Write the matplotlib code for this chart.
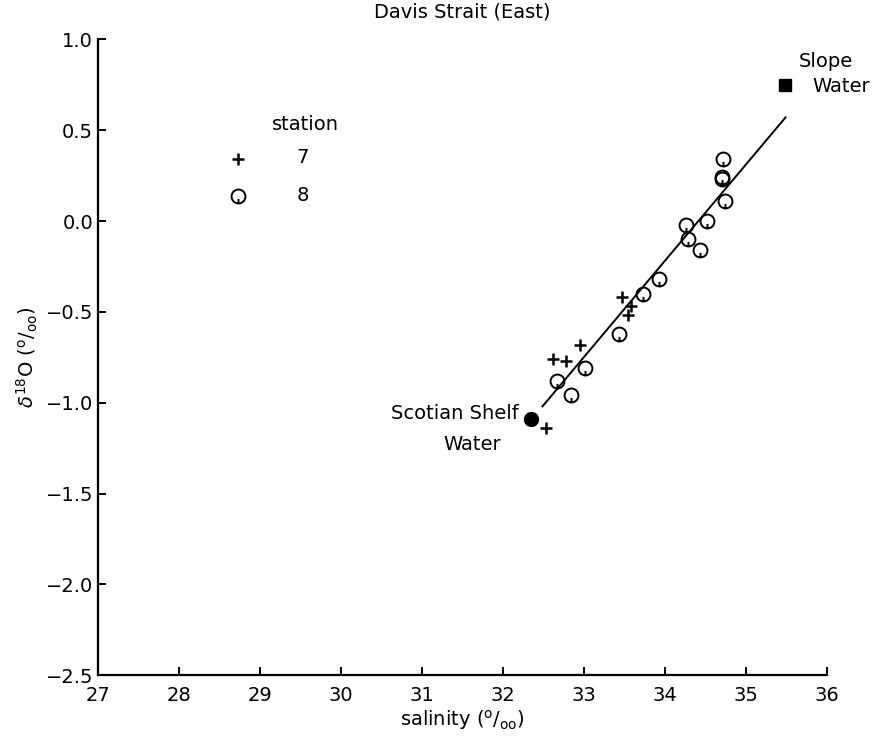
import numpy as np
import matplotlib
matplotlib.use('Agg')
import matplotlib.pyplot as plt
from matplotlib.path import Path

plt.rcParams['font.family'] = 'DejaVu Sans'
plt.rcParams['mathtext.fontset'] = 'dejavusans'

# station 8 (circles)
sal_8 = [34.72, 34.70, 34.71, 34.74, 34.52, 34.26, 34.28, 34.44, 33.93, 33.73, 33.43, 33.01, 32.67, 32.84]
d18o_8 = [0.34, 0.24, 0.23, 0.11, 0.00, -0.02, -0.10, -0.16, -0.32, -0.40, -0.62, -0.81, -0.88, -0.96]

# station 7 (crosses)
sal_7 = [33.47, 33.58, 33.54, 32.95, 32.62, 32.78, 32.53]
d18o_7 = [-0.42, -0.47, -0.52, -0.68, -0.76, -0.77, -1.14]

# end members
shelf_sal, shelf_d18o = 32.35, -1.09
slope_sal, slope_d18o = 35.49, 0.75

# mixing line
line_sal = [32.49, 35.49]
line_d18o = [-1.02, 0.57]

xticks = [27, 28, 29, 30, 31, 32, 33, 34, 35, 36]
yticks = [1.0, 0.5, 0.0, -0.5, -1.0, -1.5, -2.0, -2.5]

# circle marker with a small tick inside
circ = Path.unit_circle()
tick = Path([(0, -1.0), (0, -0.35)], [Path.MOVETO, Path.LINETO])
qmark = Path.make_compound_path(circ, tick)

fig = plt.figure(figsize=(8.74, 7.42), dpi=100)
ax = fig.add_axes([0.112, 0.09, 0.834, 0.857])

ax.plot(line_sal, line_d18o, color='black', lw=1.4)
ax.plot(sal_8, d18o_8, linestyle='none', marker=qmark, markersize=10,
        markerfacecolor='none', markeredgecolor='black', markeredgewidth=1.4)
ax.plot(sal_7, d18o_7, linestyle='none', marker='+', markersize=9,
        color='black', markeredgewidth=1.8)
ax.plot(shelf_sal, shelf_d18o, 'o', color='black', markersize=10)
ax.plot(slope_sal, slope_d18o, 's', color='black', markersize=8)

# legend drawn as text + markers
ax.text(29.56, 0.53, 'station', ha='center', va='center', fontsize=14)
ax.plot(28.73, 0.34, linestyle='none', marker='+', markersize=9, color='black', markeredgewidth=1.8)
ax.text(29.53, 0.35, '7', ha='center', va='center', fontsize=14)
ax.plot(28.73, 0.14, linestyle='none', marker=qmark, markersize=10,
        markerfacecolor='none', markeredgecolor='black', markeredgewidth=1.4)
ax.text(29.53, 0.14, '8', ha='center', va='center', fontsize=14)

ax.text(32.20, -1.06, 'Scotian Shelf', ha='right', va='center', fontsize=14)
ax.text(31.62, -1.23, 'Water', ha='center', va='center', fontsize=14)
ax.text(35.99, 0.88, 'Slope', ha='center', va='center', fontsize=14, clip_on=False)
ax.text(36.18, 0.74, 'Water', ha='center', va='center', fontsize=14, clip_on=False)

ax.set_xlim(27, 36)
ax.set_ylim(-2.5, 1.0)
ax.set_xticks(xticks)
ax.set_yticks(yticks)
ax.set_yticklabels(['%.1f' % v if v >= 0 else '\u2212%.1f' % abs(v) for v in yticks])
ax.tick_params(direction='in', length=6, width=1.4, labelsize=14)
ax.tick_params(axis='x', pad=8)
ax.spines['top'].set_visible(False)
ax.spines['right'].set_visible(False)
for s in ['left', 'bottom']:
    ax.spines[s].set_linewidth(1.6)

ax.set_xlabel(r'salinity ($^{\mathrm{o}}/_{\mathrm{oo}}$)', fontsize=14, labelpad=2)
ax.set_ylabel(r'$\delta^{18}$O ($^{\mathrm{o}}/_{\mathrm{oo}}$)', fontsize=14, labelpad=4)
ax.set_title('Davis Strait (East)', fontsize=14, pad=16)

fig.savefig('out.png', dpi=100)
